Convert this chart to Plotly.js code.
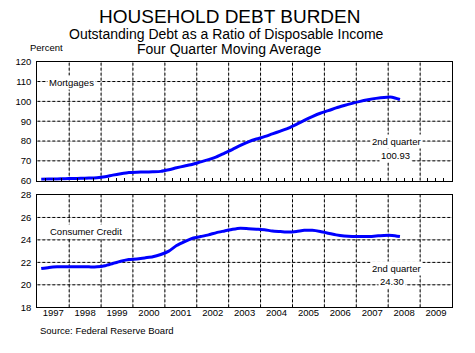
<!DOCTYPE html>
<html>
<head>
<meta charset="utf-8">
<script src="https://cdn.plot.ly/plotly-3.0.1.min.js"></script>
<style>html,body{margin:0;padding:0;background:#fff;}#chart{width:475px;height:353px;}</style>
</head>
<body>
<div id="chart"></div>
<script>
// Quarter mid-dates, 1997 Q1 .. 2008 Q2
const quarters = [
  "1997-02-15","1997-05-15","1997-08-15","1997-11-15",
  "1998-02-15","1998-05-15","1998-08-15","1998-11-15",
  "1999-02-15","1999-05-15","1999-08-15","1999-11-15",
  "2000-02-15","2000-05-15","2000-08-15","2000-11-15",
  "2001-02-15","2001-05-15","2001-08-15","2001-11-15",
  "2002-02-15","2002-05-15","2002-08-15","2002-11-15",
  "2003-02-15","2003-05-15","2003-08-15","2003-11-15",
  "2004-02-15","2004-05-15","2004-08-15","2004-11-15",
  "2005-02-15","2005-05-15","2005-08-15","2005-11-15",
  "2006-02-15","2006-05-15","2006-08-15","2006-11-15",
  "2007-02-15","2007-05-15","2007-08-15","2007-11-15",
  "2008-02-15","2008-05-15"
];
const mortgages = [
  60.7, 60.8, 60.9, 61.0,
  61.1, 61.2, 61.3, 61.5,
  62.0, 62.8, 63.5, 64.1,
  64.3, 64.4, 64.5, 64.7,
  65.5, 66.5, 67.4, 68.3,
  69.5, 70.6, 72.0, 73.9,
  75.8, 77.8, 79.6, 81.0,
  82.2, 83.6, 85.0, 86.5,
  88.4, 90.4, 92.3, 94.0,
  95.3, 96.7, 97.9, 99.0,
  100.0, 100.8, 101.5, 102.0,
  102.1, 100.93
];
const consumerCredit = [
  21.45, 21.55, 21.6, 21.6,
  21.6, 21.6, 21.6, 21.6,
  21.7, 21.9, 22.1, 22.25,
  22.3, 22.4, 22.5, 22.7,
  23.0, 23.5, 23.85, 24.15,
  24.3, 24.45, 24.65, 24.8,
  24.95, 25.05, 25.0, 24.95,
  24.9, 24.8, 24.75, 24.7,
  24.75, 24.85, 24.85, 24.75,
  24.6, 24.45, 24.35, 24.3,
  24.3, 24.3, 24.35, 24.4,
  24.4, 24.3
];
// Axis ticks / grid positions
const xRange = ["1997-01-01", "2010-01-01"];
const yearBoundaries = ["1998-01-01","1999-01-01","2000-01-01","2001-01-01","2002-01-01",
  "2003-01-01","2004-01-01","2005-01-01","2006-01-01","2007-01-01","2008-01-01","2009-01-01"];
const topRange = [60, 120];
const topTicks = [70, 80, 90, 100, 110];
const bottomRange = [18, 28];
const bottomTicks = [20, 22, 24, 26];

const mortgageLabel = "Mortgages";
const creditLabel = "Consumer Credit";
const lastMortgage = "100.93";
const lastCredit = "24.30";

const W = 475, H = 353;
const FONT = "Liberation Sans, Arial, sans-serif";
const px = x => x / W;
const py = y => 1 - y / H;

// dashed gridlines as line traces (through the axes' own scales)
function gridTrace(xa, ya, yr, yticks) {
  const gx = [], gy = [];
  yticks.forEach(v => { gx.push(xRange[0], xRange[1], null); gy.push(v, v, null); });
  yearBoundaries.forEach(d => { gx.push(d, d, null); gy.push(yr[0], yr[1], null); });
  return {x: gx, y: gy, xaxis: xa, yaxis: ya, type: "scatter", mode: "lines",
    line: {color: "#000000", width: 1, dash: "3px,2px"}, hoverinfo: "skip",
    connectgaps: false, cliponaxis: true};
}

const xCommon = {
  type: "date", range: xRange, tick0: "1997-01-01", dtick: "M12",
  showgrid: true, gridcolor: "#d4d4d4", gridwidth: 1,
  showline: true, linecolor: "#000", linewidth: 1, mirror: true,
  zeroline: false, fixedrange: true,
  domain: [px(37.3), px(452)]
};
const yCommon = {
  showgrid: true, gridcolor: "#d4d4d4", gridwidth: 1,
  showline: true, linecolor: "#000", linewidth: 1, mirror: true,
  zeroline: false, ticks: "", ticklabelstandoff: 3, fixedrange: true,
  tickfont: {family: FONT, size: 9.5, color: "#000"}
};

const traces = [
  gridTrace("x", "y", topRange, topTicks),
  gridTrace("x2", "y2", bottomRange, bottomTicks),
  {x: quarters, y: mortgages, xaxis: "x", yaxis: "y", type: "scatter", mode: "lines",
   line: {color: "#0000FF", width: 3, shape: "spline", smoothing: 0.6}, hoverinfo: "skip"},
  {x: quarters, y: consumerCredit, xaxis: "x2", yaxis: "y2", type: "scatter", mode: "lines",
   line: {color: "#0000FF", width: 3, shape: "spline", smoothing: 0.6}, hoverinfo: "skip"}
];

function note(text, x, y, size, xanchor, bg) {
  const a = {text: text, xref: "paper", yref: "paper", x: px(x), y: py(y),
    xanchor: xanchor || "center", yanchor: "middle", showarrow: false,
    font: {family: FONT, size: size, color: "#000"}};
  if (bg) { a.bgcolor = "#ffffff"; a.borderpad = 1; }
  return a;
}

const layout = {
  width: W, height: H,
  margin: {l: 0, r: 0, t: 0, b: 0},
  paper_bgcolor: "#fff", plot_bgcolor: "#fff",
  showlegend: false,
  xaxis: Object.assign({}, xCommon, {anchor: "y", showticklabels: false, ticks: "",
    minor: {dtick: "M3", tick0: "1997-01-01", ticks: "inside", ticklen: 3, tickcolor: "#000", showgrid: false}}),
  yaxis: Object.assign({}, yCommon, {anchor: "x", range: topRange, dtick: 10,
    domain: [py(180.7), py(61.7)]}),
  xaxis2: Object.assign({}, xCommon, {anchor: "y2", showticklabels: true, ticks: "",
    ticklabelmode: "period", tickformat: "%Y", ticklabelstandoff: -4,
    tickfont: {family: FONT, size: 9.5, color: "#000"}}),
  yaxis2: Object.assign({}, yCommon, {anchor: "x2", range: bottomRange, dtick: 2,
    domain: [py(307.3), py(195)]}),
  annotations: [
    note("HOUSEHOLD DEBT BURDEN", 229.5, 17, 19),
    note("Outstanding Debt as a Ratio of Disposable Income", 226.5, 34, 14),
    note("Four Quarter Moving Average", 229, 48.5, 14),
    note("Percent", 46.5, 48, 9.5),
    note(mortgageLabel, 47, 82, 9.5, "left", true),
    note(creditLabel, 48, 231, 9.5, "left", true),
    note("2nd quarter", 396.5, 141, 9.5, "center", true),
    note(lastMortgage, 395, 155.7, 9.5, "center", true),
    note("2nd quarter", 396.5, 268, 9.5, "center", true),
    note(lastCredit, 392.3, 281.7, 9.5, "center", true),
    note("Source: Federal Reserve Board", 37.7, 330, 9.5, "left")
  ]
};

Plotly.newPlot("chart", traces, layout, {staticPlot: true, displayModeBar: false});
</script>
</body>
</html>
